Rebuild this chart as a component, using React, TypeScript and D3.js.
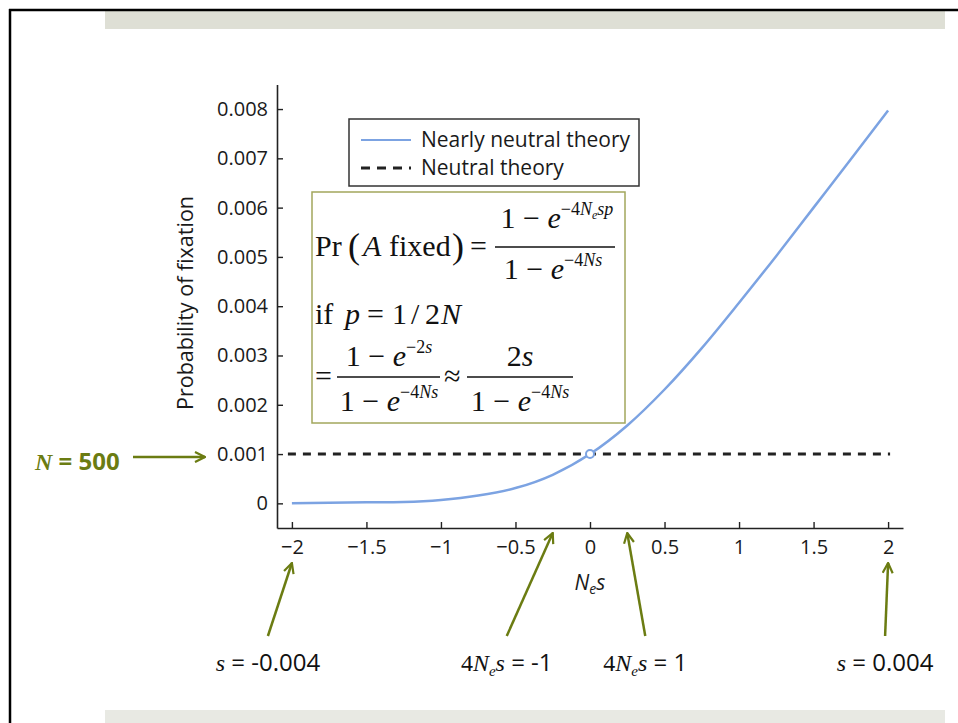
import React, { useRef, useEffect } from "react";
import * as d3 from "d3";

// values
const nsValues = [-2, -1.75, -1.5, -1.25, -1, -0.75, -0.5, -0.25, 0, 0.25, 0.5, 0.75, 1, 1.25, 1.5, 1.75, 2];
const fixProb = [0, 0.00001, 0.00002, 0.00003, 0.00007, 0.00016, 0.00031, 0.00058, 0.001, 0.00158, 0.00231, 0.00315, 0.00407, 0.00502, 0.006, 0.00698, 0.00797];
const neutralProb = 0.001;
const xTicks = [-2, -1.5, -1, -0.5, 0, 0.5, 1, 1.5, 2];
const yTicks = [0, 0.001, 0.002, 0.003, 0.004, 0.005, 0.006, 0.007, 0.008];
const legendLabels = ["Nearly neutral theory", "Neutral theory"];
const arrowTargets = [-2, -0.25, 0.25, 2];

const OLIVE = "#6b7c12";
const BLUE = "#7ca3e2";
const SANS = "'Open Sans', sans-serif";
const SERIF = "'Liberation Serif', serif";

const x = d3.scaleLinear().domain([-2.1, 2.1]).range([277, 903]);
const y = d3.scaleLinear().domain([-0.0005, 0.0085]).range([528, 84.4]);

// tail offsets (px) and heads for the bottom arrows
const arrowLayout = [
  { dx: -24, headY: 563 },
  { dx: -46, headY: 533 },
  { dx: 18, headY: 533 },
  { dx: -3, headY: 563 },
];

export default function App() {
  const gRef = useRef<SVGGElement>(null);

  useEffect(() => {
    if (!gRef.current) return;
    const g = d3.select(gRef.current);
    g.selectAll("*").remove();

    const xAxis = g.append("g")
      .attr("transform", `translate(0,${y(-0.0005)})`)
      .call(d3.axisBottom(x).tickValues(xTicks).tickSize(-6).tickSizeOuter(0).tickPadding(12)
        .tickFormat(d => d3.format("")(d as number)));
    const yAxis = g.append("g")
      .attr("transform", `translate(${x(-2.1)},0)`)
      .call(d3.axisLeft(y).tickValues(yTicks).tickSize(-6).tickSizeOuter(0).tickPadding(9)
        .tickFormat(d => (d === 0 ? "0" : d3.format(".3f")(d as number))));

    [xAxis, yAxis].forEach(a => {
      a.selectAll("path").attr("stroke", "#222").attr("stroke-width", 1.6);
      a.selectAll("line").attr("stroke", "#222").attr("stroke-width", 1.4);
      a.selectAll("text").attr("font-family", SANS).attr("font-size", 20).attr("fill", "#1a1a1a");
    });

    // neutral theory
    g.append("line")
      .attr("x1", x(-2) - 4).attr("x2", x(2) + 2)
      .attr("y1", y(neutralProb)).attr("y2", y(neutralProb))
      .attr("stroke", "#222").attr("stroke-width", 3).attr("stroke-dasharray", "8 7");

    // nearly neutral theory
    const line = d3.line<number>().x((d, i) => x(nsValues[i])).y(d => y(d)).curve(d3.curveMonotoneX);
    g.append("path").attr("d", line(fixProb)).attr("fill", "none")
      .attr("stroke", BLUE).attr("stroke-width", 2.5);

    g.append("circle").attr("cx", x(0)).attr("cy", y(neutralProb)).attr("r", 4)
      .attr("fill", "white").attr("stroke", BLUE).attr("stroke-width", 2);
  }, []);

  const sup = 18;
  const sub = 12;

  return (
    <svg width={958} height={723} style={{ position: "absolute", left: 0, top: 0, background: "white" }}>
      <defs>
        <marker id="ah" viewBox="0 0 12 12" refX="11" refY="6" markerWidth="12" markerHeight="12"
          markerUnits="userSpaceOnUse" orient="auto">
          <path d="M1,1 L11,6 L1,11" fill="none" stroke={OLIVE} strokeWidth={2.2} />
        </marker>
      </defs>

      {/* slide frame */}
      <rect x={105} y={11} width={840} height={18} fill="#dedfd5" />
      <rect x={105} y={710} width={840} height={13} fill="#e8e9e3" />
      <line x1={9} x2={958} y1={10} y2={10} stroke="#000" strokeWidth={2.5} />
      <line x1={10} x2={10} y1={9} y2={723} stroke="#000" strokeWidth={2.5} />

      <g ref={gRef} />

      {/* axis titles */}
      <text transform="translate(193,303) rotate(-90)" textAnchor="middle" fontFamily={SANS} fontSize={21.5} fill="#1a1a1a">
        Probability of fixation
      </text>
      <text x={x(0)} y={590} textAnchor="middle" fontFamily={SANS} fontSize={21} fontStyle="italic" fill="#1a1a1a">
        N<tspan fontSize={14} dy={4}>e</tspan><tspan dy={-4}>s</tspan>
      </text>

      {/* legend */}
      <rect x={349} y={119} width={290} height={67} fill="white" stroke="#333" strokeWidth={1.5} />
      <line x1={361} x2={411} y1={140} y2={140} stroke={BLUE} strokeWidth={2.2} />
      <line x1={361} x2={411} y1={168} y2={168} stroke="#222" strokeWidth={3} strokeDasharray="9 7" />
      <text x={421} y={147} fontFamily={SANS} fontSize={21} fill="#1a1a1a">{legendLabels[0]}</text>
      <text x={421} y={175} fontFamily={SANS} fontSize={21} fill="#1a1a1a">{legendLabels[1]}</text>

      {/* formula box */}
      <rect x={312} y={192} width={313} height={231} fill="white" stroke="#a2a75c" strokeWidth={1.5} />
      <g fontFamily={SERIF} fontSize={30} fill="#111">
        <text x={315} y={256}>Pr</text>
        <text x={348} y={258} fontSize={36}>(</text>
        <text x={363} y={256} fontStyle="italic">A</text>
        <text x={389} y={256}>fixed</text>
        <text x={452} y={258} fontSize={36}>)</text>
        <text x={470} y={256}>=</text>
        <line x1={495} x2={615} y1={247} y2={247} stroke="#111" strokeWidth={1.5} />
        <text x={557} y={228} textAnchor="middle">1 − <tspan fontStyle="italic">e</tspan>
          <tspan fontSize={sup} dy={-13}>−4</tspan><tspan fontSize={sup} fontStyle="italic">N</tspan>
          <tspan fontSize={sub} fontStyle="italic" dy={4}>e</tspan><tspan fontSize={sup} fontStyle="italic" dy={-4}>sp</tspan>
        </text>
        <text x={553} y={279} textAnchor="middle">1 − <tspan fontStyle="italic">e</tspan>
          <tspan fontSize={sup} dy={-13}>−4</tspan><tspan fontSize={sup} fontStyle="italic">Ns</tspan>
        </text>

        <text x={315} y={324}>if</text>
        <text x={345} y={324} fontStyle="italic">p</text>
        <text x={367} y={324}>=</text>
        <text x={392} y={324}>1</text>
        <text x={411} y={324}>/</text>
        <text x={425} y={324}>2</text>
        <text x={441} y={324} fontStyle="italic">N</text>

        <text x={315} y={386}>=</text>
        <line x1={337} x2={440} y1={377} y2={377} stroke="#111" strokeWidth={1.5} />
        <text x={389} y={366} textAnchor="middle">1 − <tspan fontStyle="italic">e</tspan>
          <tspan fontSize={sup} dy={-13}>−2</tspan><tspan fontSize={sup} fontStyle="italic">s</tspan>
        </text>
        <text x={389} y={411} textAnchor="middle">1 − <tspan fontStyle="italic">e</tspan>
          <tspan fontSize={sup} dy={-13}>−4</tspan><tspan fontSize={sup} fontStyle="italic">Ns</tspan>
        </text>
        <text x={444} y={386}>≈</text>
        <line x1={467} x2={573} y1={377} y2={377} stroke="#111" strokeWidth={1.5} />
        <text x={520} y={366} textAnchor="middle">2<tspan fontStyle="italic">s</tspan></text>
        <text x={520} y={411} textAnchor="middle">1 − <tspan fontStyle="italic">e</tspan>
          <tspan fontSize={sup} dy={-13}>−4</tspan><tspan fontSize={sup} fontStyle="italic">Ns</tspan>
        </text>
      </g>

      {/* N = 500 annotation */}
      <text x={35} y={470} fill={OLIVE} fontSize={24} fontWeight="bold">
        <tspan fontFamily={SERIF} fontStyle="italic">N</tspan>
        <tspan fontFamily={SANS}> = 500</tspan>
      </text>
      <line x1={133} x2={205} y1={y(neutralProb) + 3} y2={y(neutralProb) + 3} stroke={OLIVE} strokeWidth={2.5} markerEnd="url(#ah)" />

      {/* bottom arrows */}
      {arrowTargets.map((t, i) => (
        <line key={i} x1={x(t) + arrowLayout[i].dx} y1={636} x2={x(t)} y2={arrowLayout[i].headY}
          stroke={OLIVE} strokeWidth={2.5} markerEnd="url(#ah)" />
      ))}

      <g fontSize={24} fill="#111" textAnchor="middle">
        <text x={x(-2) - 24} y={671}>
          <tspan fontFamily={SERIF} fontStyle="italic">s</tspan><tspan fontFamily={SANS}> = -0.004</tspan>
        </text>
        <text x={x(-0.25) - 46} y={671}>
          <tspan fontFamily={SERIF}>4</tspan><tspan fontFamily={SERIF} fontStyle="italic">N</tspan>
          <tspan fontFamily={SERIF} fontStyle="italic" fontSize={15} dy={5}>e</tspan>
          <tspan fontFamily={SERIF} fontStyle="italic" dy={-5}>s</tspan><tspan fontFamily={SANS}> = -1</tspan>
        </text>
        <text x={x(0.25) + 18} y={671}>
          <tspan fontFamily={SERIF}>4</tspan><tspan fontFamily={SERIF} fontStyle="italic">N</tspan>
          <tspan fontFamily={SERIF} fontStyle="italic" fontSize={15} dy={5}>e</tspan>
          <tspan fontFamily={SERIF} fontStyle="italic" dy={-5}>s</tspan><tspan fontFamily={SANS}> = 1</tspan>
        </text>
        <text x={x(2) - 3} y={671}>
          <tspan fontFamily={SERIF} fontStyle="italic">s</tspan><tspan fontFamily={SANS}> = 0.004</tspan>
        </text>
      </g>
    </svg>
  );
}
